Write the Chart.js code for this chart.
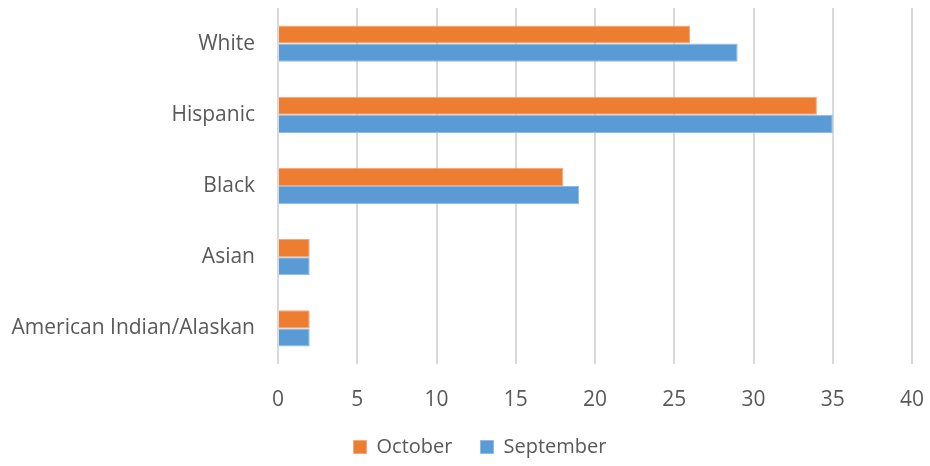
<!DOCTYPE html>
<html>
<head>
<meta charset="utf-8">
<script src="https://cdn.jsdelivr.net/npm/chart.js@4/dist/chart.umd.min.js"></script>
<style>
  html, body { margin: 0; padding: 0; background: #fff; }
  #wrap { width: 930px; height: 466px; }
</style>
</head>
<body>
<div id="wrap"><canvas id="chart"></canvas></div>
<script>
// Data
const categories = ["White", "Hispanic", "Black", "Asian", "American Indian/Alaskan"];
const october = [26, 34, 18, 2, 2];
const september = [29, 35, 19, 2, 2];
const xTicks = [0, 5, 10, 15, 20, 25, 30, 35, 40];

const textColor = "#595959";
const fontFamily = "'Open Sans', 'Liberation Sans', sans-serif";

// nudge the legend right, it sits under the middle of the page in the original
const legendShift = {
  id: "legendShift",
  afterLayout(chart) {
    chart.legend.left += 24;
    chart.legend.right += 24;
  },
};

const ctx = document.getElementById("chart").getContext("2d");
new Chart(ctx, {
  type: "bar",
  data: {
    labels: categories,
    datasets: [
      {
        label: "October",
        data: october,
        backgroundColor: "#ED7D31",
        borderColor: "#F4A77A",
        borderWidth: 1,
        borderSkipped: "start",
        categoryPercentage: 0.51,
        barPercentage: 1.0,
      },
      {
        label: "September",
        data: september,
        backgroundColor: "#5B9BD5",
        borderColor: "#8DBBE6",
        borderWidth: 1,
        borderSkipped: "start",
        categoryPercentage: 0.51,
        barPercentage: 1.0,
      },
    ],
  },
  options: {
    indexAxis: "y",
    responsive: true,
    maintainAspectRatio: false,
    animation: false,
    layout: { padding: { top: 8, right: 18, bottom: -1, left: 0 } },
    scales: {
      x: {
        min: 0,
        max: 40,
        afterBuildTicks: (scale) => {
          scale.ticks = xTicks.map((v) => ({ value: v }));
        },
        afterFit: (scale) => {
          scale.height = 45;
          scale.paddingLeft = 0;
          scale.paddingRight = 0;
        },
        grid: { color: "#D9D9D9", lineWidth: 2, drawTicks: false },
        border: { display: false },
        ticks: {
          color: textColor,
          padding: 23,
          font: { family: fontFamily, size: 21 },
        },
      },
      y: {
        afterFit: (scale) => {
          scale.width = 278;
          scale.paddingTop = 0;
          scale.paddingBottom = 0;
        },
        grid: { display: false },
        border: { display: false },
        ticks: {
          color: textColor,
          padding: 15,
          font: { family: fontFamily, size: 21 },
        },
      },
    },
    plugins: {
      legend: {
        display: true,
        position: "bottom",
        labels: {
          color: textColor,
          boxWidth: 13,
          boxHeight: 13,
          padding: 28,
          useBorderRadius: false,
          font: { family: fontFamily, size: 20 },
        },
      },
      title: { display: false },
      tooltip: { enabled: false },
    },
  },
  plugins: [legendShift],
});
</script>
</body>
</html>
